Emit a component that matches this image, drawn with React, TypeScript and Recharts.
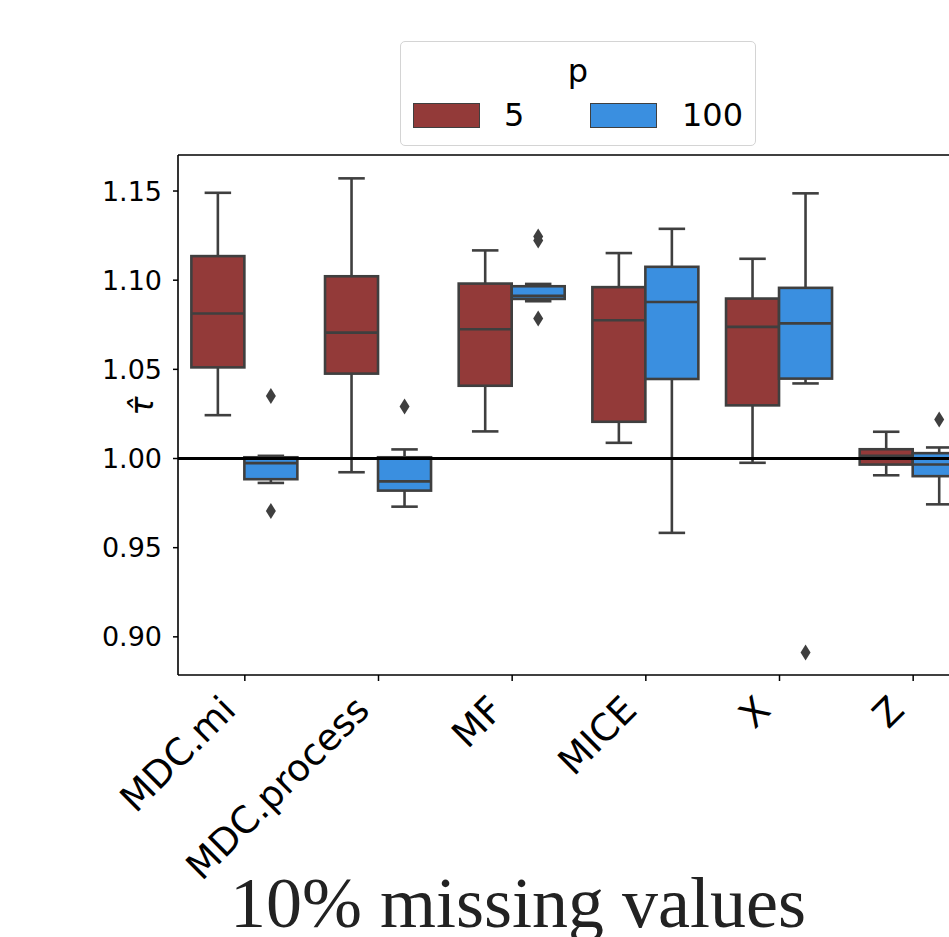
import { ComposedChart, Bar, XAxis, YAxis, ReferenceLine } from 'recharts';

const categories = ['MDC.mi', 'MDC.process', 'MF', 'MICE', 'X', 'Z'];

// p = 5
const low5 = [1.0243, 0.9923, 1.0152, 1.0088, 0.9976, 0.9906];
const q1_5 = [1.0511, 1.0476, 1.0408, 1.0206, 1.0298, 0.9966];
const med5 = [1.0813, 1.0706, 1.0725, 1.0775, 1.0738, 1.0015];
const q3_5 = [1.1135, 1.1022, 1.0981, 1.0961, 1.0897, 1.0052];
const high5 = [1.149, 1.1571, 1.1167, 1.1152, 1.112, 1.015];
const fliers5: number[][] = [[], [], [], [], [], []];

// p = 100
const low100 = [0.9863, 0.973, 1.0882, 0.9583, 1.0421, 0.9743];
const q1_100 = [0.9884, 0.982, 1.0895, 1.0446, 1.0448, 0.9901];
const med100 = [0.9974, 0.9872, 1.0912, 1.0878, 1.0758, 0.9966];
const q3_100 = [1.0007, 1.0007, 1.0966, 1.1075, 1.0957, 1.003];
const high100 = [1.0015, 1.0051, 1.0979, 1.1288, 1.1487, 1.0062];
const fliers100: number[][] = [[1.035, 0.9706], [1.0292], [1.1245, 1.1222, 1.0785], [], [0.8912], [1.0219]];

const yTicks = [0.9, 0.95, 1.0, 1.05, 1.1, 1.15];
const yMin = 0.8786;
const yMax = 1.1702;

const RED = '#933a39';
const BLUE = '#3a8fe0';
const EDGE = '#3f3f3f';

const data = categories.map((name, i) => ({
  name,
  i,
  r5: [low5[i], high5[i]],
  r100: [low100[i], high100[i]],
}));

type Stats = { lo: number[]; q1: number[]; med: number[]; q3: number[]; hi: number[]; fl: number[][] };

const stats5: Stats = { lo: low5, q1: q1_5, med: med5, q3: q3_5, hi: high5, fl: fliers5 };
const stats100: Stats = { lo: low100, q1: q1_100, med: med100, q3: q3_100, hi: high100, fl: fliers100 };

function makeBox(s: Stats, fill: string) {
  return (props: any) => {
    const { x, y, width, height, payload, index } = props;
    const i = payload?.i ?? index;
    const top = Math.min(y, y + height);
    const bottom = Math.max(y, y + height);
    const lo = s.lo[i];
    const hi = s.hi[i];
    // map value -> pixel using the bar's own scaled extent
    const toY = (v: number) => bottom - ((v - lo) / (hi - lo)) * (bottom - top);
    const cx = x + width / 2;
    const capW = width / 4;
    const yq1 = toY(s.q1[i]);
    const yq3 = toY(s.q3[i]);
    const ym = toY(s.med[i]);
    return (
      <g>
        <line x1={cx} x2={cx} y1={toY(hi)} y2={yq3} stroke={EDGE} strokeWidth={2.6} />
        <line x1={cx} x2={cx} y1={yq1} y2={toY(lo)} stroke={EDGE} strokeWidth={2.6} />
        <line x1={cx - capW} x2={cx + capW} y1={toY(hi)} y2={toY(hi)} stroke={EDGE} strokeWidth={2.6} />
        <line x1={cx - capW} x2={cx + capW} y1={toY(lo)} y2={toY(lo)} stroke={EDGE} strokeWidth={2.6} />
        <rect x={x} y={yq3} width={width} height={yq1 - yq3} fill={fill} stroke={EDGE} strokeWidth={2.6} />
        <line x1={x} x2={x + width} y1={ym} y2={ym} stroke={EDGE} strokeWidth={2.6} />
        {s.fl[i].map((v, k) => {
          const py = toY(v);
          return (
            <path
              key={k}
              d={`M${cx},${py - 8} L${cx + 5},${py} L${cx},${py + 8} L${cx - 5},${py} Z`}
              fill={EDGE}
            />
          );
        })}
      </g>
    );
  };
}

const XTick = (props: any) => {
  const { x, y, payload } = props;
  const ax = x - 7;
  const ay = y + 29;
  return (
    <text x={ax} y={ay} transform={`rotate(-45, ${ax}, ${ay})`} textAnchor="end" fontSize={37} fill="#000">
      {payload.value}
    </text>
  );
};

const YLabel = () => (
  <text
    x={153}
    y={406}
    transform="rotate(-90, 153, 406)"
    textAnchor="middle"
    fontSize={32}
    fontStyle="italic"
    fontFamily="DejaVu Sans"
    fill="#000"
  >
    τ̂
  </text>
);

export default function App() {
  return (
    <div
      style={{
        position: 'fixed',
        left: 0,
        top: 0,
        width: 949,
        height: 937,
        overflow: 'hidden',
        background: '#fff',
        fontFamily: 'DejaVu Sans',
      }}
    >
      <ComposedChart
        width={1000}
        height={937}
        data={data}
        margin={{ top: 155, right: 20, bottom: 0, left: 0 }}
        barCategoryGap="10%"
        barGap={0}
      >
        <XAxis
          dataKey="name"
          height={262}
          axisLine={{ stroke: '#000', strokeWidth: 1.6 }}
          tickLine={{ stroke: '#000', strokeWidth: 1.5 }}
          tickSize={6}
          tick={<XTick />}
          interval={0}
        />
        <YAxis
          width={178}
          domain={[yMin, yMax]}
          ticks={yTicks}
          allowDataOverflow
          type="number"
          tickFormatter={(v: number) => v.toFixed(2)}
          axisLine={{ stroke: '#000', strokeWidth: 1.6 }}
          tickLine={{ stroke: '#000', strokeWidth: 1.5 }}
          tickSize={5}
          tickMargin={11}
          tick={{ fontSize: 27, fill: '#000' }}
          label={<YLabel />}
        />
        <Bar dataKey="r5" isAnimationActive={false} shape={makeBox(stats5, RED)} />
        <Bar dataKey="r100" isAnimationActive={false} shape={makeBox(stats100, BLUE)} />
        <ReferenceLine y={1} stroke="#000" strokeWidth={3} />
        <ReferenceLine y={yMax} stroke="#000" strokeWidth={1.6} />
      </ComposedChart>

      <div
        style={{
          position: 'absolute',
          left: 400,
          top: 41,
          width: 354,
          height: 103,
          border: '1.5px solid #d4d4d4',
          borderRadius: 5,
          background: '#fff',
          fontSize: 32,
          color: '#000',
        }}
      >
        <div style={{ position: 'absolute', left: 0, right: 0, top: 11, textAlign: 'center', lineHeight: '36px' }}>p</div>
        <div
          style={{
            position: 'absolute',
            left: 12,
            top: 61,
            width: 65,
            height: 23,
            background: RED,
            border: `1px solid ${EDGE}`,
          }}
        />
        <div style={{ position: 'absolute', left: 103, top: 55, lineHeight: '36px' }}>5</div>
        <div
          style={{
            position: 'absolute',
            left: 189,
            top: 61,
            width: 65,
            height: 23,
            background: BLUE,
            border: `1px solid ${EDGE}`,
          }}
        />
        <div style={{ position: 'absolute', left: 281, top: 55, lineHeight: '36px' }}>100</div>
      </div>

      <div
        style={{
          position: 'absolute',
          left: 0,
          top: 867,
          width: 1036,
          textAlign: 'center',
          fontFamily: 'Liberation Serif',
          fontSize: 72,
          lineHeight: '72px',
          color: '#222',
          whiteSpace: 'nowrap',
        }}
      >
        10% missing values
      </div>
    </div>
  );
}
